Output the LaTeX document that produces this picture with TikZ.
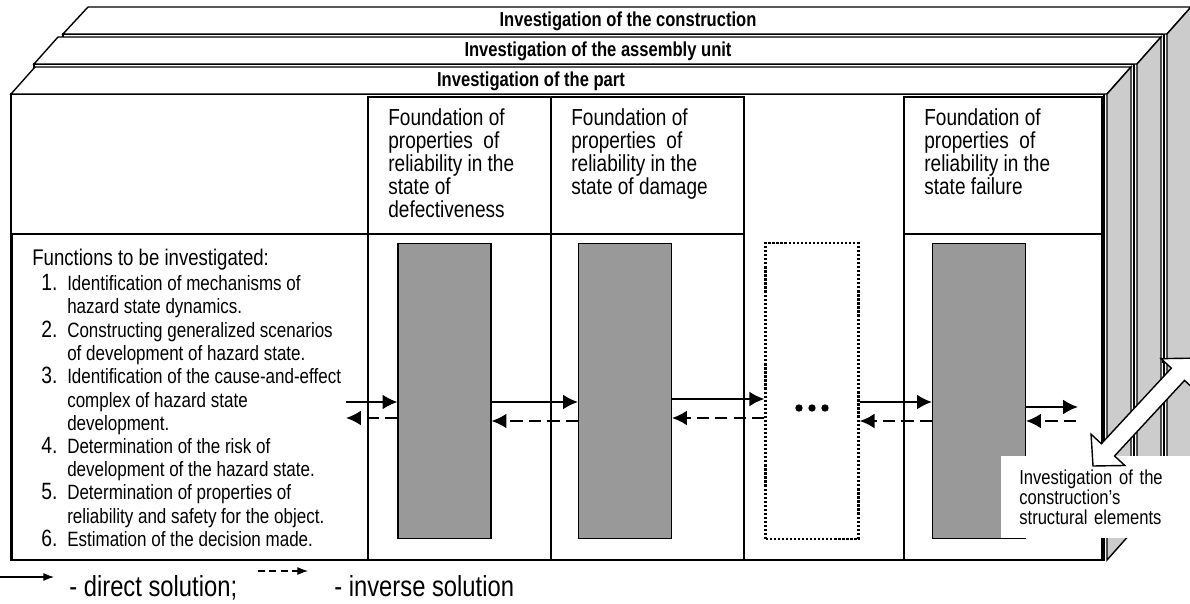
\documentclass[tikz,border=0pt]{standalone}
\usepackage{fontspec}
\setmainfont{Liberation Sans}[FakeStretch=0.82]
\usetikzlibrary{arrows.meta,positioning}

\newcommand{\itemno}[1]{{\fontsize{13.4}{13.2}\selectfont #1}}

\begin{document}
\begin{tikzpicture}[x=0.02cm,y=-0.02cm,
  face/.style={draw,line width=0.8pt,fill=white},
  side/.style={draw,line width=0.8pt,fill=black!20},
  cell/.style={draw,line width=0.8pt,anchor=north west,inner sep=0pt,outer sep=0pt},
  core/.style={draw,line width=0.6pt,fill=black!40,minimum width=1.86cm,minimum height=5.92cm,inner sep=0pt},
  dirarr/.style={line width=1.2pt,-{Latex[length=8.5pt,width=8.5pt]}},
  invarr/.style={dirarr,dash pattern=on 7pt off 3.5pt},
  toptxt/.style={inner sep=0pt,font=\fontsize{11.5}{13}\selectfont\bfseries},
  headtxt/.style={anchor=north west,inner sep=0pt,align=left,font=\fontsize{13.2}{13.2}\selectfont},
  legtxt/.style={anchor=base west,inner sep=0pt,font=\fontsize{16.5}{18}\selectfont},
]
\useasboundingbox (0,0) rectangle (1190,604);

% construction
\draw[face] (63,34) rectangle (1164,500);
\draw[face] (63,34) -- (88,7) -- (1191,7) -- (1167,34) -- cycle;
\draw[side] (1167,34) -- (1191,7) -- (1191,473) -- (1167,500) -- cycle;

% assembly unit
\draw[face] (34,64) rectangle (1134,530);
\draw[face] (34,64) -- (58,37) -- (1161,37) -- (1137,64) -- cycle;
\draw[side] (1137,64) -- (1161,37) -- (1161,503) -- (1137,530) -- cycle;

% part
\draw[face] (11,94) rectangle (1104,560);
\draw[face] (11,94) -- (35,67) -- (1131,67) -- (1107,94) -- cycle;
\draw[side] (1107,94) -- (1131,67) -- (1131,533) -- (1107,560) -- cycle;

\node[toptxt] (tcons) at (628,21) {Investigation of the construction};
\node[toptxt] (tasm) at (598,51) {Investigation of the assembly unit};
\node[toptxt] (tpart) at (531,81) {Investigation of the part};

% cells
\node[cell,minimum width=3.66cm,minimum height=2.74cm] (h1) at (368,97) {};
\node[cell,minimum width=3.86cm,minimum height=2.74cm] (h2) at (h1.north east) {};
\node[cell,minimum width=3.96cm,minimum height=2.74cm] (h4) at (904,97) {};
\node[cell,minimum width=7.12cm,minimum height=6.52cm] (fc) at (12,234) {};
\node[cell,minimum width=3.66cm,minimum height=6.52cm] (c1) at (fc.north east) {};
\node[cell,minimum width=3.86cm,minimum height=6.52cm] (c2) at (c1.north east) {};
\node[cell,minimum width=3.96cm,minimum height=6.52cm] (c4) at (904,234) {};

\node[headtxt] (t1) at (388,108) {Foundation of\\properties\ \ of\\reliability in the\\state of\\defectiveness};
\node[headtxt] (t2) at (571,108) {Foundation of\\properties\ \ of\\reliability in the\\state of damage};
\node[headtxt] (t4) at (924,108) {Foundation of\\properties\ \ of\\reliability in the\\state failure};

\node[anchor=north west,inner sep=0pt] (ftxt) at (32,249) {\fontsize{11.8}{13.2}\selectfont
\begin{tabular}{@{\hspace{5.2pt}}r@{\hspace{5.5pt}}l@{}}
\multicolumn{2}{@{}l@{}}{\fontsize{12.9}{15}\selectfont Functions to be investigated:}\\[1pt]
\itemno{1.} & Identification of mechanisms of\\
 & hazard state dynamics.\\
\itemno{2.} & Constructing generalized scenarios\\
 & of development of hazard state.\\
\itemno{3.} & Identification of the cause-and-effect\\
 & complex of hazard state\\
 & development.\\
\itemno{4.} & Determination of the risk of\\
 & development of the hazard state.\\
\itemno{5.} & Determination of properties of\\
 & reliability and safety for the object.\\
\itemno{6.} & Estimation of the decision made.
\end{tabular}};

% states
\node[core] (r1) at (444.5,391) {};
\node[core] (r2) at (625,391) {};
\node[core,fill=none,line width=1.3pt,dash pattern=on 1.3pt off 1pt] (rd) at (812,391) {};
\node[core] (r4) at (979,391) {};
\foreach \d in {-13,0,13} {
  \fill ([xshift=\d*0.02cm,yshift=-0.34cm]rd.center) circle (2.1pt);
}

% direct and inverse solutions
\coordinate (lin) at (346,402);
\coordinate (lout) at (346,418);
\draw[dirarr] (lin) -- (lin -| r1.west);
\draw[invarr] (lout -| r1.west) -- (lout);
\draw[dirarr] ([yshift=-0.22cm]r1.east) -- ([yshift=-0.22cm]r2.west);
\draw[invarr] ([yshift=-0.6cm]r2.west) -- ([yshift=-0.6cm]r1.east);
\draw[dirarr] ([yshift=-0.16cm]r2.east) -- ([yshift=-0.16cm]rd.west);
\draw[invarr] ([yshift=-0.54cm]rd.west) -- ([yshift=-0.54cm]r2.east);
\draw[dirarr] ([yshift=-0.22cm]rd.east) -- ([yshift=-0.22cm]r4.west);
\draw[invarr] ([yshift=-0.6cm]r4.west) -- ([yshift=-0.6cm]rd.east);
\coordinate (rout) at (1078,407);
\coordinate (rin) at (1076,421);
\draw[dirarr] (rout -| r4.east) -- (rout);
\draw[invarr] (rin) -- (rin -| r4.east);

% structural elements
\node[anchor=north west,fill=white,inner xsep=0.36cm,inner ysep=0pt,text width=3.06cm,
  minimum height=1.64cm,align=left,font=\fontsize{11.5}{11.5}\selectfont] (elem) at (1001,456)
  {Investigation of the\\construction’s\\structural elements};
\draw[line width=0.6pt] (1162,362) -- (1191,362);
\begin{scope}[shift={(1093,466)},rotate=47.2]
\draw[line width=0.8pt,fill=white] (0,0) -- (22,23) -- (22,9) -- (125,9) -- (125,23) -- (147,0)
  -- (125,-23) -- (125,-9) -- (22,-9) -- (22,-23) -- cycle;
\end{scope}

% legend
\coordinate (ld0) at (0,577);
\coordinate (ld1) at (54,577);
\coordinate (li0) at (258,571);
\coordinate (li1) at (308,571);
\draw[line width=0.6pt,-{Latex[length=6pt,width=4.5pt]}] (ld0) -- (ld1);
\draw[line width=0.6pt,dash pattern=on 4pt off 2.5pt,-{Latex[length=6pt,width=4.5pt]}] (li0) -- (li1);
\node[legtxt] (ldir) at (69,596) {- direct solution;};
\node[legtxt] (linv) at (334,596) {- inverse solution};
\end{tikzpicture}
\end{document}
